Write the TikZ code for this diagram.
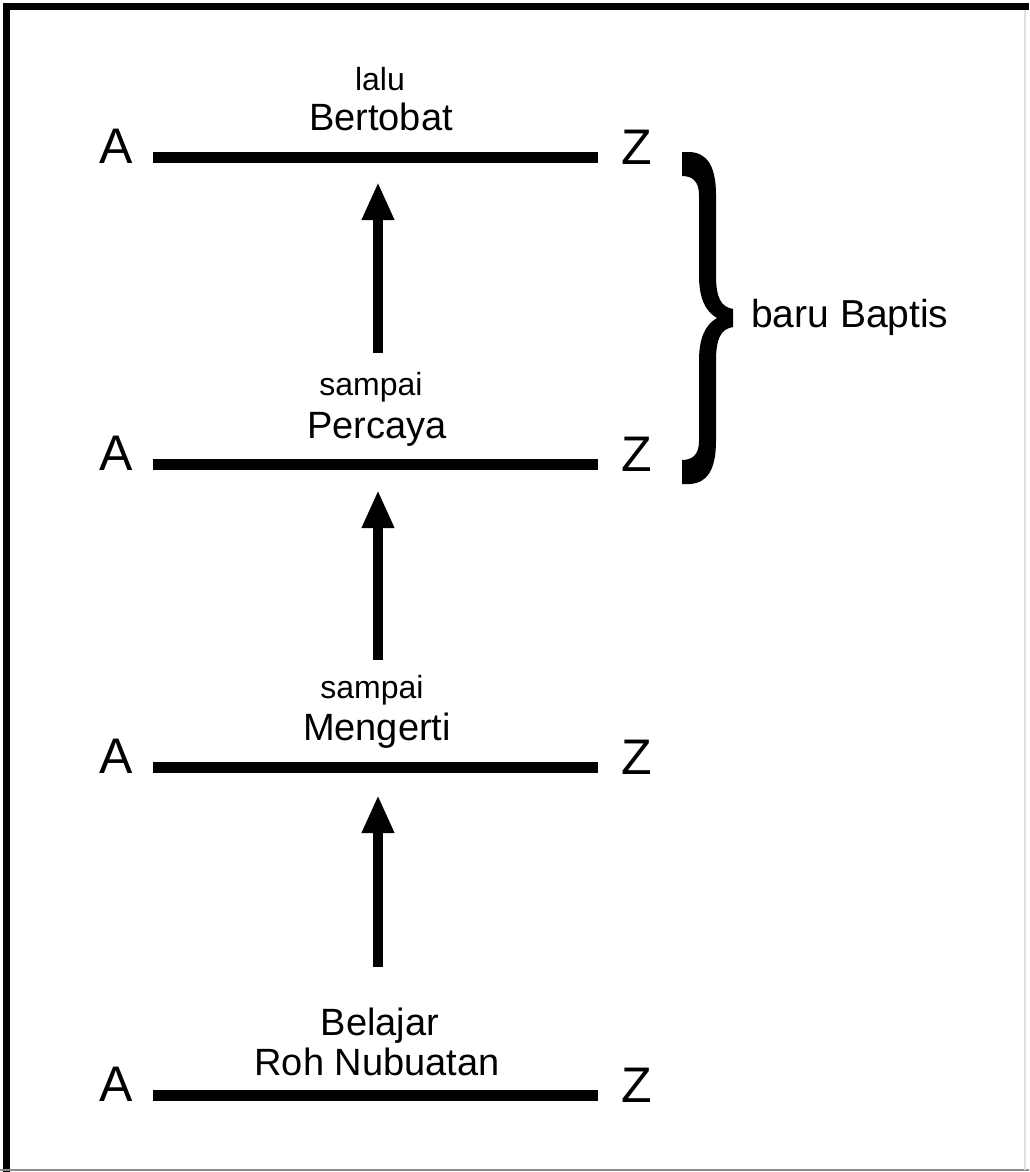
\documentclass[tikz,border=0pt]{standalone}
\usepackage{fontspec}
\setmainfont{Liberation Sans}
\usetikzlibrary{arrows.meta}

\tikzset{
  letter/.style={inner sep=0pt, anchor=base, font=\fontsize{50}{50}\selectfont},
  biglabel/.style={inner sep=0pt, anchor=base, font=\fontsize{38}{38}\selectfont},
  smalllabel/.style={inner sep=0pt, anchor=base, font=\fontsize{32}{32}\selectfont},
  scaleline/.style={line width=11pt},
  uparrow/.style={line width=10pt, -{Triangle[length=38pt,width=30pt]}},
}

\begin{document}
\begin{tikzpicture}[x=1pt, y=-1pt]
  \useasboundingbox (0,0) rectangle (1029,1172);
  \fill[white] (0,0) rectangle (1029,1172);

  % frame
  \draw[line width=7pt, black] (6.5,1172) -- (6.5,6.5) -- (1029,6.5);
  \draw[line width=2pt, black!45] (0,1170) -- (1029,1170);
  \draw[line width=2pt, black!12] (1025,10) -- (1025,1170);

  % the four A--Z scales
  \foreach \n/\y in {1/157, 2/464, 3/767, 4/1095} {
    \coordinate (L\n) at (153,\y);
    \coordinate (R\n) at (598,\y);
    \draw[scaleline] (L\n) -- (R\n);
    \node[letter] (A\n) at (116,\y+6) {A};
    \node[letter] (Z\n) at (637,\y+7) {Z};
  }

  % labels above the scales
  \node[smalllabel] (lalu)  at (380,90)   {lalu};
  \node[biglabel]   (bert)  at (381,130)  {Bertobat};
  \node[smalllabel] (samp2) at (371,395)  {sampai};
  \node[biglabel]   (perc)  at (377,438)  {Percaya};
  \node[smalllabel] (samp3) at (372,698)  {sampai};
  \node[biglabel]   (meng)  at (377,740)  {Mengerti};
  \node[biglabel]   (bel)   at (380,1035) {Belajar};
  \node[biglabel]   (roh)   at (377,1075) {Roh Nubuatan};

  % upward arrows between the scales
  \coordinate (t1) at (378,353); \coordinate (h1) at (378,182);
  \coordinate (t2) at (378,660); \coordinate (h2) at (378,490);
  \coordinate (t3) at (378,967); \coordinate (h3) at (378,795);
  \draw[uparrow] (t1) -- (h1);
  \draw[uparrow] (t2) -- (h2);
  \draw[uparrow] (t3) -- (h3);

  % curly brace over the two upper scales
  \fill[black]
    (682,152) -- (690,152)
      .. controls (707,153) and (716,166) .. (716,195)
      -- (716,275)
      .. controls (716,298) and (721,307) .. (733,309)
      -- (733,327)
      .. controls (721,329) and (716,338) .. (716,361)
      -- (716,441)
      .. controls (716,470) and (707,483) .. (690,484)
      -- (682,484) -- (682,460)
      .. controls (693,460) and (699,454) .. (699,441)
      -- (699,361)
      .. controls (699,338) and (705,325) .. (717,318)
      .. controls (705,311) and (699,298) .. (699,275)
      -- (699,195)
      .. controls (699,182) and (693,176) .. (682,176)
      -- cycle;
  \coordinate (tip) at (733,318);
  \node[biglabel, anchor=base west, font=\fontsize{39}{39}\selectfont] (bap) at (751,327) {baru Baptis};
\end{tikzpicture}
\end{document}
